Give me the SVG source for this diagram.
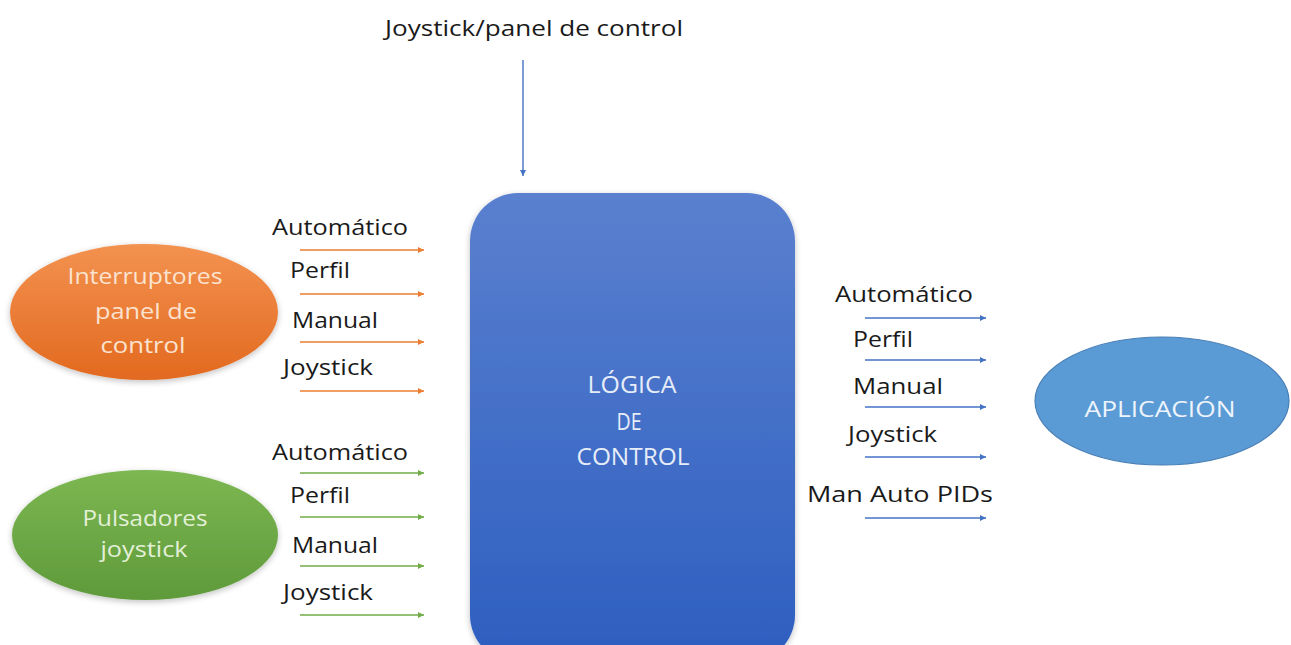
<svg xmlns="http://www.w3.org/2000/svg" width="1291" height="645" viewBox="0 0 1291 645">
  <style>
    .lbl { font-family: "Open Sans", "Liberation Sans", sans-serif; font-size: 22px; fill: #1a1a1a; }
    .in { font-family: "Open Sans", "Liberation Sans", sans-serif; font-size: 22px; }
    .box { font-family: "Open Sans", "Liberation Sans", sans-serif; font-size: 23px; fill: #e6edf8; }
    .or { stroke: #ed7d31; stroke-width: 1.4; fill: none; marker-end: url(#hOr); }
    .gr { stroke: #70ad47; stroke-width: 1.4; fill: none; marker-end: url(#hGr); }
    .bl { stroke: #4472c4; stroke-width: 1.4; fill: none; marker-end: url(#hBl); }
  </style>
  <defs>
    <marker id="hOr" viewBox="0 0 10 10" refX="10" refY="5" markerWidth="6" markerHeight="6" markerUnits="userSpaceOnUse" orient="auto">
      <path d="M0,0 L10,5 L0,10 z" fill="#ed7d31"/>
    </marker>
    <marker id="hGr" viewBox="0 0 10 10" refX="10" refY="5" markerWidth="6" markerHeight="6" markerUnits="userSpaceOnUse" orient="auto">
      <path d="M0,0 L10,5 L0,10 z" fill="#70ad47"/>
    </marker>
    <marker id="hBl" viewBox="0 0 10 10" refX="10" refY="5" markerWidth="6" markerHeight="6" markerUnits="userSpaceOnUse" orient="auto">
      <path d="M0,0 L10,5 L0,10 z" fill="#4472c4"/>
    </marker>
    <linearGradient id="gOr" x1="0" y1="0" x2="0" y2="1">
      <stop offset="0" stop-color="#f39250"/>
      <stop offset="1" stop-color="#e2691f"/>
    </linearGradient>
    <linearGradient id="gGr" x1="0" y1="0" x2="0" y2="1">
      <stop offset="0" stop-color="#7cb752"/>
      <stop offset="1" stop-color="#5f9a3a"/>
    </linearGradient>
    <linearGradient id="gBl" x1="0" y1="0" x2="0" y2="1">
      <stop offset="0" stop-color="#5a80cf"/>
      <stop offset="1" stop-color="#2d5ec0"/>
    </linearGradient>
    <filter id="soft" x="-10%" y="-10%" width="120%" height="125%">
      <feGaussianBlur in="SourceAlpha" stdDeviation="3"/>
      <feOffset dy="2"/>
      <feComponentTransfer><feFuncA type="linear" slope="0.25"/></feComponentTransfer>
      <feMerge><feMergeNode/><feMergeNode in="SourceGraphic"/></feMerge>
    </filter>
  </defs>

  <!-- top input label -->
  <text class="lbl" x="385" y="36" textLength="298" lengthAdjust="spacingAndGlyphs">Joystick/panel de control</text>

  <g id="interruptores">
    <ellipse cx="144" cy="312" rx="134" ry="68" fill="url(#gOr)" filter="url(#soft)"/>
    <text class="in" fill="#fbe3d0" text-anchor="middle" x="145" y="284" textLength="155" lengthAdjust="spacingAndGlyphs">Interruptores</text>
    <text class="in" fill="#fbe3d0" text-anchor="middle" x="146" y="319" textLength="102" lengthAdjust="spacingAndGlyphs">panel de</text>
    <text class="in" fill="#fbe3d0" text-anchor="middle" x="143" y="353" textLength="85" lengthAdjust="spacingAndGlyphs">control</text>
  </g>

  <g id="pulsadores">
    <ellipse cx="145" cy="535" rx="133" ry="65" fill="url(#gGr)" filter="url(#soft)"/>
    <text class="in" fill="#e3f0d8" text-anchor="middle" x="145" y="526" textLength="125" lengthAdjust="spacingAndGlyphs">Pulsadores</text>
    <text class="in" fill="#e3f0d8" text-anchor="middle" x="144" y="557" textLength="87" lengthAdjust="spacingAndGlyphs">joystick</text>
  </g>

  <g id="logica">
    <rect x="470" y="193" width="325" height="470" rx="48" ry="48" fill="url(#gBl)" filter="url(#soft)"/>
    <text class="box" text-anchor="middle" x="632" y="393" textLength="89" lengthAdjust="spacingAndGlyphs">LÓGICA</text>
    <text class="box" text-anchor="middle" x="629" y="430" textLength="25" lengthAdjust="spacingAndGlyphs">DE</text>
    <text class="box" text-anchor="middle" x="633" y="465" textLength="113" lengthAdjust="spacingAndGlyphs">CONTROL</text>
  </g>

  <g id="aplicacion">
    <ellipse cx="1162" cy="401" rx="127" ry="64" fill="#5b9bd5" stroke="#4a7fb5" stroke-width="1.2"/>
    <text class="in" fill="#eef4fb" text-anchor="middle" x="1160" y="417" textLength="151" lengthAdjust="spacingAndGlyphs">APLICACIÓN</text>
  </g>

  <!-- signal labels -->
  <g id="labels">
    <text class="lbl" x="272" y="235" textLength="136" lengthAdjust="spacingAndGlyphs">Automático</text>
    <text class="lbl" x="290" y="278" textLength="60" lengthAdjust="spacingAndGlyphs">Perfil</text>
    <text class="lbl" x="292" y="328" textLength="86" lengthAdjust="spacingAndGlyphs">Manual</text>
    <text class="lbl" x="283" y="375" textLength="90" lengthAdjust="spacingAndGlyphs">Joystick</text>

    <text class="lbl" x="272" y="460" textLength="136" lengthAdjust="spacingAndGlyphs">Automático</text>
    <text class="lbl" x="290" y="503" textLength="60" lengthAdjust="spacingAndGlyphs">Perfil</text>
    <text class="lbl" x="292" y="553" textLength="86" lengthAdjust="spacingAndGlyphs">Manual</text>
    <text class="lbl" x="283" y="600" textLength="90" lengthAdjust="spacingAndGlyphs">Joystick</text>

    <text class="lbl" x="835" y="302" textLength="138" lengthAdjust="spacingAndGlyphs">Automático</text>
    <text class="lbl" x="853" y="347" textLength="60" lengthAdjust="spacingAndGlyphs">Perfil</text>
    <text class="lbl" x="853" y="394" textLength="90" lengthAdjust="spacingAndGlyphs">Manual</text>
    <text class="lbl" x="848" y="442" textLength="89" lengthAdjust="spacingAndGlyphs">Joystick</text>
    <text class="lbl" x="807" y="502" textLength="186" lengthAdjust="spacingAndGlyphs">Man Auto PIDs</text>
  </g>

  <g id="connectors">
    <line class="bl" x1="523" y1="60" x2="523" y2="176"/>

    <line class="or" x1="300" y1="250" x2="424" y2="250"/>
    <line class="or" x1="300" y1="294" x2="424" y2="294"/>
    <line class="or" x1="300" y1="342" x2="424" y2="342"/>
    <line class="or" x1="300" y1="391" x2="424" y2="391"/>

    <line class="gr" x1="300" y1="473" x2="424" y2="473"/>
    <line class="gr" x1="300" y1="517" x2="424" y2="517"/>
    <line class="gr" x1="300" y1="566" x2="424" y2="566"/>
    <line class="gr" x1="300" y1="615" x2="424" y2="615"/>

    <line class="bl" x1="865" y1="318" x2="986" y2="318"/>
    <line class="bl" x1="865" y1="360" x2="986" y2="360"/>
    <line class="bl" x1="865" y1="407" x2="986" y2="407"/>
    <line class="bl" x1="865" y1="457" x2="986" y2="457"/>
    <line class="bl" x1="865" y1="518" x2="986" y2="518"/>
  </g>
</svg>
